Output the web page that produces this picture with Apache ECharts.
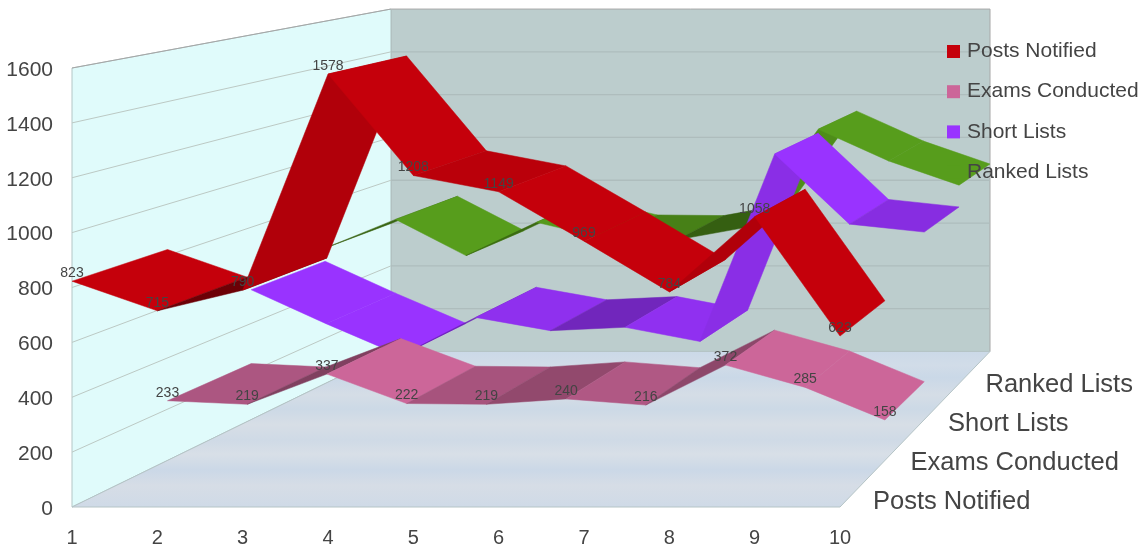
<!DOCTYPE html>
<html><head><meta charset="utf-8">
<style>html,body{margin:0;padding:0;background:#fff}#c{width:1146px;height:551px}</style>
<script src="https://cdn.jsdelivr.net/npm/echarts@6/dist/echarts.min.js"></script></head>
<body><div id="c"></div>
<script>
const categories = ['1','2','3','4','5','6','7','8','9','10'];
const postsNotified = [823,715,790,1578,1208,1149,969,784,1058,623];
const examsConducted = [233,219,337,222,219,240,216,372,285,158];
const shortLists = [540,399,266,425,370,384,325,1105,813,780];
const rankedLists = [598,725,565,712,638,635,691,1123,983,876];
const yTicks = [0,200,400,600,800,1000,1200,1400,1600];

const VP = [1522,-200], K = 0.282;
const FONT = '"Liberation Sans", Arial, sans-serif';
function proj(p, d){ const s = 1/(1+K*d); return [VP[0]+(p[0]-VP[0])*s, VP[1]+(p[1]-VP[1])*s]; }
function shade(hex, f){
  const n = parseInt(hex.slice(1),16);
  const c = [(n>>16)&255,(n>>8)&255,n&255].map(v=>Math.round(v*f));
  return 'rgb('+c.join(',')+')';
}
function factor(dv){
  if (dv < 0) return Math.min(1, 0.81 + 0.19*(-dv)/85);
  if (dv <= 75) return 0.78 - 0.23*dv/75;
  if (dv <= 160) return 0.55 + 0.15*(dv-75)/85;
  if (dv <= 274) return 0.70 + 0.20*(dv-160)/114;
  return 0.9;
}
function ribbon(name, values, color, band, z){
  return { type:'custom', name, coordinateSystem:'cartesian2d', z, silent:true, clip:false,
    itemStyle:{color}, encode:{x:0,y:1},
    data: values.map((v,i)=>[i,v]),
    renderItem(params, api){
      const i = params.dataIndex;
      if (i >= values.length-1) return null;
      const a = api.coord([i, values[i]]), b = api.coord([i+1, values[i+1]]);
      const d0 = band/4, d1 = (band+1)/4;
      const pts = [proj(a,d0), proj(a,d1), proj(b,d1), proj(b,d0)];
      const col = shade(color, factor(values[i+1]-values[i]));
      return {type:'polygon', shape:{points:pts}, style:{fill:col, stroke:col, lineWidth:0.5}};
    }};
}
function valueLabels(values, band){
  return { type:'custom', coordinateSystem:'cartesian2d', z:20, silent:true, clip:false,
    encode:{x:0,y:1}, data: values.map((v,i)=>[i,v]),
    renderItem(params, api){
      const i = params.dataIndex, p = proj(api.coord([i, values[i]]), band/4);
      return {type:'text', style:{x:p[0], y:p[1]-8, text:String(values[i]), fill:'#444444',
        font:'14px '+FONT, align:'center', verticalAlign:'middle'}};
    }};
}
const walls = { type:'custom', coordinateSystem:'cartesian2d', z:1, silent:true, clip:false,
  encode:{x:0,y:1}, data:[[0,0]],
  renderItem(params, api){
    const n = categories.length-1, top = yTicks[yTicks.length-1];
    const A = api.coord([0,0]), B = api.coord([n,0]), C = api.coord([0,top]), D = api.coord([n,top]);
    const kids = [
      {type:'polygon', shape:{points:[proj(C,1),proj(D,1),proj(B,1),proj(A,1)]}, style:{fill:'#bccdcd', stroke:'#a9a9a9', lineWidth:1}},
      {type:'polygon', shape:{points:[A,C,proj(C,1),proj(A,1)]}, style:{fill:'#e0fbfb', stroke:'#b3c6c6', lineWidth:1}},
      {type:'polygon', shape:{points:[A,B,proj(B,1),proj(A,1)]}, style:{
        fill:new echarts.graphic.LinearGradient(0,0,0,1,[
          {offset:0,color:'#cbd9e8'},{offset:.09,color:'#d1dce8'},{offset:.17,color:'#cad8e7'},
          {offset:.28,color:'#d5dde6'},{offset:.37,color:'#ccd9e6'},{offset:.47,color:'#d7dee6'},
          {offset:.57,color:'#cfdae6'},{offset:.66,color:'#d8dfe7'},{offset:.76,color:'#cbd8e7'},
          {offset:.86,color:'#d6dde6'},{offset:1,color:'#cfdae7'}]), stroke:'#b5c4c6', lineWidth:1}}
    ];
    yTicks.forEach(t=>{
      const L = api.coord([0,t]), R = api.coord([n,t]);
      if (t>0){
        const bk = proj(L,1);
        kids.push({type:'line', shape:{x1:L[0],y1:L[1],x2:bk[0],y2:bk[1]}, style:{stroke:t===top?'#a6a6a6':'#bcc9c4', lineWidth:1}});
        if (t<top){ const br = proj(R,1);
          kids.push({type:'line', shape:{x1:bk[0],y1:bk[1],x2:br[0],y2:br[1]}, style:{stroke:'#aebdbd', lineWidth:1.3}}); }
      }
    });
    return {type:'group', children:kids};
  }};
const seriesNames = ['Posts Notified','Exams Conducted','Short Lists','Ranked Lists'];
const depthLabels = { type:'custom', coordinateSystem:'cartesian2d', z:20, silent:true, clip:false,
  encode:{x:0,y:1}, data: seriesNames.map(()=>[categories.length-1,0]),
  renderItem(params, api){
    const i = params.dataIndex, B = api.coord([categories.length-1,0]), E = proj(B,1);
    return {type:'text', style:{x:B[0]+(E[0]-B[0])*i/4+33, y:B[1]+(E[1]-B[1])*i/4-5, text:seriesNames[i], fill:'#444444',
      font:'25.5px '+FONT, align:'left', verticalAlign:'middle'}};
  }};
const chart = echarts.init(document.getElementById('c'), null, {renderer:'canvas'});
chart.setOption({
  animation:false, backgroundColor:'#ffffff',
  grid:{left:72, top:68, width:768, height:439, containLabel:false, outerBoundsMode:'none'},
  xAxis:{type:'category', data:categories, boundaryGap:false, axisLine:{show:false}, axisTick:{show:false}, splitLine:{show:false},
    axisLabel:{color:'#444444', fontSize:20, fontFamily:'Liberation Sans', margin:21, interval:0}},
  yAxis:{type:'value', min:0, max:1600, interval:200, axisLine:{show:false}, axisTick:{show:false}, splitLine:{show:false},
    axisLabel:{color:'#444444', fontSize:21, fontFamily:'Liberation Sans', margin:19, verticalAlign:'top', lineHeight:4, formatter:v=>String(v)}},
  legend:{orient:'vertical', left:947, top:39.5, padding:0, itemWidth:13, itemHeight:13, itemGap:16.2, icon:'rect', selectedMode:false, z:30,
    data:seriesNames, textStyle:{color:'#444444', fontSize:21, lineHeight:24, fontFamily:'Liberation Sans', padding:[0,0,0,2]}},
  series:[ walls,
    ribbon('Ranked Lists', rankedLists, '#579d1c', 3, 2),
    ribbon('Short Lists', shortLists, '#9933ff', 2, 3),
    ribbon('Exams Conducted', examsConducted, '#cc6699', 1, 4),
    ribbon('Posts Notified', postsNotified, '#c5000b', 0, 5),
    valueLabels(postsNotified,0), valueLabels(examsConducted,1), depthLabels ]
});
</script></body></html>
